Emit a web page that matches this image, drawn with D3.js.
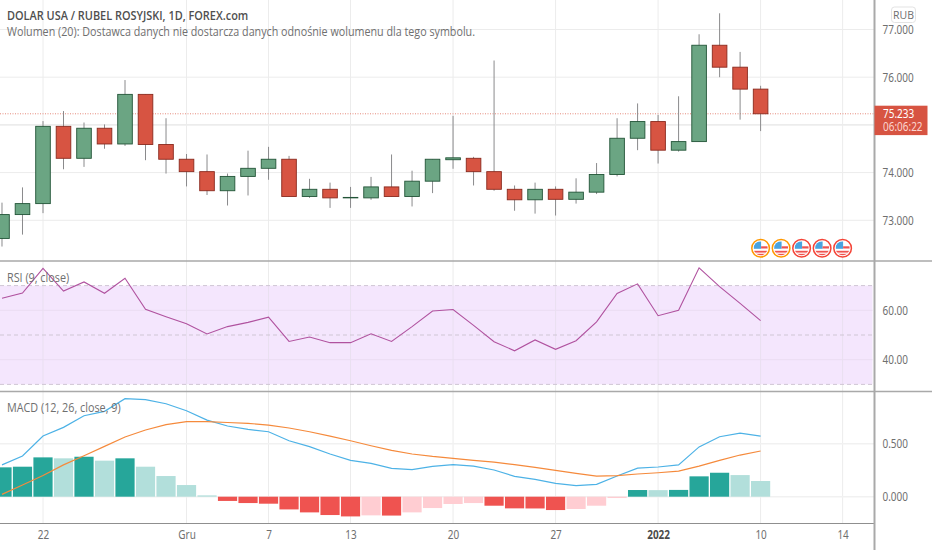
<!DOCTYPE html>
<html>
<head>
<meta charset="utf-8">
<script src="https://cdn.jsdelivr.net/npm/d3@7"></script>
<style>
    html, body { margin: 0; padding: 0; background: #fff; }
    svg { display: block; }
    text { font-family: "Open Sans", sans-serif; }
</style>
</head>
<body>
<div id="chart"></div>
<script>
const opens  = [72.62,73.12,73.35,74.97,74.30,74.93,74.60,75.64,74.59,74.28,74.02,73.62,73.92,74.09,74.28,73.50,73.65,73.47,73.47,73.70,73.50,73.82,74.27,74.30,74.02,73.65,73.43,73.65,73.44,73.59,73.96,74.72,75.07,74.47,74.65,76.67,76.21,75.75];
const highs  = [73.37,73.69,75.08,75.29,75.05,75.01,75.94,75.64,75.14,74.39,74.38,73.98,74.46,74.54,74.35,73.87,73.79,73.70,73.91,74.38,74.04,74.28,75.19,74.33,76.35,73.73,73.79,73.71,73.88,74.20,75.14,75.45,75.21,75.60,76.90,77.34,76.53,75.82];
const lows   = [72.45,72.70,73.15,74.07,74.12,74.50,74.56,74.26,73.98,73.71,73.53,73.31,73.52,73.85,73.50,73.47,73.26,73.26,73.43,73.50,73.29,73.57,74.08,73.73,73.62,73.20,73.14,73.10,73.35,73.55,73.92,74.47,74.19,74.44,74.65,76.00,75.11,74.87];
const closes = [73.12,73.35,74.97,74.30,74.93,74.60,75.64,74.59,74.28,74.02,73.62,73.92,74.09,74.28,73.50,73.65,73.47,73.48,73.70,73.50,73.82,74.28,74.31,74.02,73.65,73.43,73.65,73.44,73.59,73.96,74.72,75.07,74.47,74.65,76.67,76.21,75.75,75.233];

const rsi = [64.9,67.0,77.0,67.8,71.5,66.9,73.0,60.4,57.4,54.6,50.4,53.4,55.1,57.2,47.4,49.2,46.9,46.9,50.5,47.4,53.4,59.7,60.3,53.9,47.3,43.6,48.0,44.2,47.7,55.3,66.8,70.7,57.8,60.0,77.2,69.6,62.8,55.8];

const macd = [0.30,0.384,0.572,0.654,0.764,0.805,0.925,0.915,0.877,0.811,0.723,0.667,0.635,0.613,0.528,0.472,0.403,0.343,0.314,0.267,0.255,0.286,0.302,0.289,0.252,0.192,0.164,0.126,0.104,0.116,0.195,0.27,0.28,0.30,0.47,0.566,0.60,0.572];
const signal = [0.022,0.11,0.20,0.30,0.387,0.475,0.563,0.629,0.68,0.708,0.708,0.70,0.692,0.676,0.648,0.613,0.572,0.528,0.481,0.437,0.403,0.38,0.362,0.343,0.327,0.302,0.277,0.248,0.22,0.195,0.198,0.214,0.226,0.242,0.289,0.343,0.393,0.431];
const hist = [0.277,0.283,0.371,0.362,0.377,0.34,0.362,0.283,0.195,0.11,0.0126,-0.04,-0.06,-0.066,-0.12,-0.148,-0.173,-0.186,-0.176,-0.178,-0.148,-0.107,-0.069,-0.06,-0.085,-0.11,-0.111,-0.126,-0.116,-0.085,-0.0126,0.063,0.062,0.064,0.192,0.226,0.204,0.148];

const timeTicks = [2,9,13,17,22,27,32,37,41];
const timeLabels = ['22','Gru','7','13','20','27','2022','10','14'];
const priceTicks = [73,74,75,76,77];
const priceLabels = [73,74,76,77];
const rsiTicks = [40,60];
const rsiBands = [30,50,70];
const macdTicks = [0,0.5];
const eventBars = [37,38,39,40,41];
const eventColors = ['#ff9800','#ff9800','#f44336','#f44336','#f44336'];
const lastPrice = 75.233;

const width = 932, height = 550;
const axisX = 874.5;
const colors = {
    up: '#6ba583', upBorder: '#225437',
    down: '#d75442', downBorder: '#8a2a1e',
    wick: '#8a8a8c',
    grid: '#ececec',
    sep: '#a9a9a9',
    text: '#6f6f6f',
    rsi: '#b0529f', band: '#f4e6fd', bandLine: '#cfc6d4',
    macd: '#4db2e6', signal: '#f58a3c',
    histUp: '#26a69a', histUpLight: '#b2dfdb', histDown: '#ef5350', histDownLight: '#ffcdd2'
};

const bars = d3.range(closes.length);

const x = d3.scaleLinear().domain([2, 37]).range([43, 760.6]);
const yPrice = d3.scaleLinear().domain([73, 77]).range([220.3, 29.5]);
const yRsi = d3.scaleLinear().domain([40, 60]).range([359.7, 310.3]);
const yMacd = d3.scaleLinear().domain([0, 0.5]).range([496.7, 443.7]);

const svg = d3.select('#chart').append('svg')
    .attr('width', width)
    .attr('height', height);

const defs = svg.append('defs');
defs.append('clipPath').attr('id', 'flag-clip')
    .append('circle').attr('r', 7);

// Squeeze text horizontally, the installed fonts run wider than the original
const squeeze = (sel, k) => sel.each(function() {
    d3.select(this)
        .attr('textLength', this.getComputedTextLength() * k)
        .attr('lengthAdjust', 'spacingAndGlyphs');
});

// Grid
const grid = svg.append('g');
grid.selectAll('.v').data(timeTicks).enter().append('line')
    .attr('x1', d => x(d)).attr('x2', d => x(d))
    .attr('y1', 0).attr('y2', 523)
    .attr('stroke', colors.grid);
grid.selectAll('.p').data(priceTicks).enter().append('line')
    .attr('x1', 0).attr('x2', axisX)
    .attr('y1', d => yPrice(d)).attr('y2', d => yPrice(d))
    .attr('stroke', colors.grid)
    .attr('stroke-width', d => d === 75 ? 1.6 : 1);
grid.selectAll('.m').data(macdTicks).enter().append('line')
    .attr('x1', 0).attr('x2', axisX)
    .attr('y1', d => yMacd(d)).attr('y2', d => yMacd(d))
    .attr('stroke', '#f1f1f1')
    .attr('stroke-width', 1.5);

// Last price line
svg.append('line')
    .attr('x1', 0).attr('x2', axisX)
    .attr('y1', yPrice(lastPrice)).attr('y2', yPrice(lastPrice))
    .attr('stroke', '#e58b7d')
    .attr('stroke-dasharray', '1,1.5');

// Candles
const candles = svg.append('g').selectAll('g').data(bars).enter().append('g');
candles.append('line')
    .attr('x1', d => x(d)).attr('x2', d => x(d))
    .attr('y1', d => yPrice(highs[d])).attr('y2', d => yPrice(lows[d]))
    .attr('stroke', colors.wick);
candles.append('rect')
    .attr('x', d => x(d) - 7.3)
    .attr('width', 14.6)
    .attr('y', d => yPrice(Math.max(opens[d], closes[d])))
    .attr('height', d => Math.abs(yPrice(opens[d]) - yPrice(closes[d])))
    .attr('fill', d => closes[d] >= opens[d] ? colors.up : colors.down)
    .attr('stroke', d => closes[d] >= opens[d] ? colors.upBorder : colors.downBorder)
    .attr('stroke-width', 0.9);

// Event flags
const flags = svg.append('g').selectAll('g').data(eventBars).enter().append('g')
    .attr('transform', d => `translate(${x(d)},248.3)`);
flags.append('circle')
    .attr('r', 8.8)
    .attr('fill', '#fff')
    .attr('stroke', (d, i) => eventColors[i])
    .attr('stroke-width', 1.5);
const flagInner = flags.append('g').attr('clip-path', 'url(#flag-clip)');
flagInner.append('rect').attr('x', -7).attr('y', -7).attr('width', 7.5).attr('height', 7.5).attr('fill', '#4aa3df');
flagInner.append('rect').attr('x', 0.5).attr('y', -2).attr('width', 7).attr('height', 2.2).attr('fill', '#ef5350');
flagInner.append('rect').attr('x', -7).attr('y', 2.5).attr('width', 14).attr('height', 1.8).attr('fill', '#ef5350');
flagInner.append('rect').attr('x', -7).attr('y', 5.5).attr('width', 14).attr('height', 2).attr('fill', '#ef5350');

// RSI pane
svg.append('rect')
    .attr('x', 0).attr('width', axisX - 2)
    .attr('y', yRsi(70)).attr('height', yRsi(30) - yRsi(70))
    .attr('fill', colors.band);
svg.append('g').selectAll('line').data(rsiTicks).enter().append('line')
    .attr('x1', 0).attr('x2', axisX - 2)
    .attr('y1', d => yRsi(d)).attr('y2', d => yRsi(d))
    .attr('stroke', '#eadcf2');
svg.append('g').selectAll('line').data(timeTicks).enter().append('line')
    .attr('x1', d => x(d)).attr('x2', d => x(d))
    .attr('y1', yRsi(70)).attr('y2', yRsi(30))
    .attr('stroke', '#e9dff0');
svg.append('g').selectAll('line').data(rsiBands).enter().append('line')
    .attr('x1', 0).attr('x2', axisX - 2)
    .attr('y1', d => yRsi(d)).attr('y2', d => yRsi(d))
    .attr('stroke', colors.bandLine)
    .attr('stroke-dasharray', '4,3');

const lineOf = (values, scale) => d3.line().x(d => x(d)).y(d => scale(values[d]));

svg.append('path')
    .datum(bars)
    .attr('fill', 'none')
    .attr('stroke', colors.rsi)
    .attr('stroke-width', 1.1)
    .attr('d', lineOf(rsi, yRsi));

// MACD pane
const histColor = d => {
    const rising = d === 0 || hist[d] > hist[d - 1];
    if (hist[d] >= 0) return rising ? colors.histUp : colors.histUpLight;
    return rising ? colors.histDownLight : colors.histDown;
};
svg.append('g').selectAll('rect').data(bars).enter().append('rect')
    .attr('x', d => x(d) - 9.6)
    .attr('width', 19.2)
    .attr('y', d => Math.min(yMacd(hist[d]), yMacd(0)))
    .attr('height', d => Math.abs(yMacd(hist[d]) - yMacd(0)))
    .attr('fill', histColor);

svg.append('path')
    .datum(bars)
    .attr('fill', 'none')
    .attr('stroke', colors.macd)
    .attr('stroke-width', 1.2)
    .attr('d', lineOf(macd, yMacd));
svg.append('path')
    .datum(bars)
    .attr('fill', 'none')
    .attr('stroke', colors.signal)
    .attr('stroke-width', 1.2)
    .attr('d', lineOf(signal, yMacd));

// Pane separators
svg.append('g').selectAll('line').data([261, 391.5]).enter().append('line')
    .attr('x1', 0).attr('x2', width)
    .attr('y1', d => d).attr('y2', d => d)
    .attr('stroke', colors.sep)
    .attr('stroke-width', 1.5);

// Axes
const styleAxis = g => {
    g.select('.domain').remove();
    g.selectAll('text')
        .attr('fill', colors.text)
        .style('font-size', '12px')
        .style('font-family', '"Noto Sans", sans-serif')
        .call(squeeze, 0.83);
};

svg.append('g')
    .attr('transform', `translate(${axisX},0)`)
    .call(d3.axisRight(yPrice).tickValues(priceLabels).tickSize(0).tickPadding(8).tickFormat(d3.format('.3f')))
    .call(styleAxis);
svg.append('g')
    .attr('transform', `translate(${axisX},0)`)
    .call(d3.axisRight(yRsi).tickValues(rsiTicks).tickSize(0).tickPadding(8).tickFormat(d3.format('.2f')))
    .call(styleAxis);
svg.append('g')
    .attr('transform', `translate(${axisX},0)`)
    .call(d3.axisRight(yMacd).tickValues(macdTicks).tickSize(0).tickPadding(8).tickFormat(d3.format('.3f')))
    .call(styleAxis);

svg.append('g')
    .attr('transform', 'translate(0,523.5)')
    .call(d3.axisBottom(x).tickValues(timeTicks).tickSize(0).tickPadding(7)
        .tickFormat(d => timeLabels[timeTicks.indexOf(d)]))
    .call(styleAxis)
    .call(g => g.selectAll('text')
        .filter(d => timeLabels[timeTicks.indexOf(d)] === '2022')
        .attr('fill', '#4a4a4a')
        .style('font-weight', 'bold'));

svg.append('line')
    .attr('x1', 0).attr('x2', axisX)
    .attr('y1', 523.5).attr('y2', 523.5)
    .attr('stroke', '#8f8f8f');
svg.append('line')
    .attr('x1', axisX).attr('x2', axisX)
    .attr('y1', 0).attr('y2', height)
    .attr('stroke', colors.sep)
    .attr('stroke-width', 2);

// Last price label
svg.append('rect')
    .attr('x', axisX).attr('y', 105.7)
    .attr('width', 53).attr('height', 29.4)
    .attr('fill', colors.down);
svg.append('text')
    .attr('x', 883).attr('y', yPrice(lastPrice) + 4.5)
    .attr('fill', '#fff')
    .style('font-family', '"Noto Sans", sans-serif')
    .style('font-size', '12px')
    .text(d3.format('.3f')(lastPrice))
    .call(squeeze, 0.83);
svg.append('text')
    .attr('x', 883).attr('y', 131)
    .attr('fill', '#fbd5cf')
    .style('font-family', '"Noto Sans", sans-serif')
    .style('font-size', '12px')
    .text('06:06:22')
    .call(squeeze, 0.83);

// Currency button
svg.append('rect')
    .attr('x', 891.5).attr('y', 7)
    .attr('width', 24).attr('height', 15.5)
    .attr('rx', 3)
    .attr('fill', '#fff')
    .attr('stroke', '#e3e3e3');
svg.append('text')
    .attr('x', 903.5).attr('y', 18.8)
    .attr('text-anchor', 'middle')
    .attr('fill', colors.text)
    .style('font-size', '10.5px')
    .text('RUB');

// Legends
svg.append('text')
    .attr('x', 7).attr('y', 20)
    .attr('fill', '#4f4f4f')
    .style('font-size', '12px')
    .style('font-weight', 600)
    .text('DOLAR USA / RUBEL ROSYJSKI, 1D, FOREX.com')
    .call(squeeze, 0.91);
svg.append('text')
    .attr('x', 7).attr('y', 36)
    .attr('fill', colors.text)
    .style('font-size', '12px')
    .text('Wolumen (20): Dostawca danych nie dostarcza danych odnośnie wolumenu dla tego symbolu.')
    .call(squeeze, 0.895);
svg.append('text')
    .attr('x', 7).attr('y', 282)
    .attr('fill', colors.text)
    .style('font-size', '12px')
    .text('RSI (9, close)')
    .call(squeeze, 0.9);
svg.append('text')
    .attr('x', 7).attr('y', 412)
    .attr('fill', colors.text)
    .style('font-size', '12px')
    .text('MACD (12, 26, close, 9)')
    .call(squeeze, 0.9);
</script>
</body>
</html>
